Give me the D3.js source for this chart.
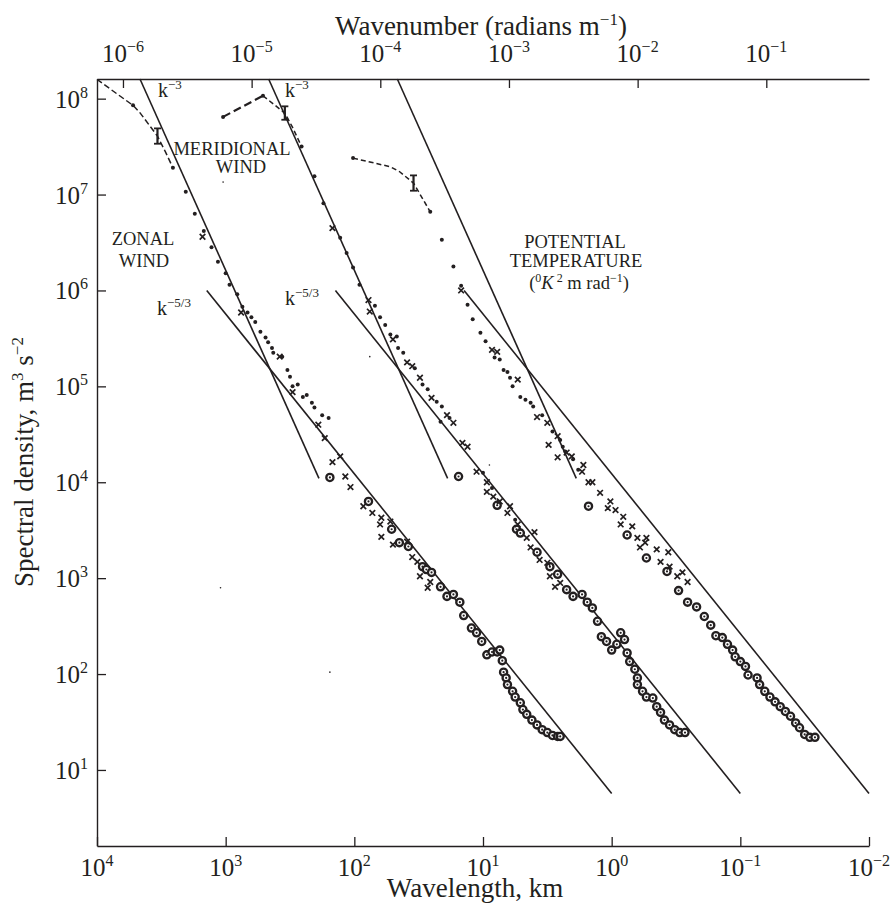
<!DOCTYPE html>
<html>
<head>
<meta charset="utf-8">
<script src="https://cdn.jsdelivr.net/npm/d3@7"></script>
<style>
  body { margin: 0; background: #fff; }
  svg text { font-family: "Liberation Serif", "Times New Roman", serif; fill: #231f20; }
</style>
</head>
<body>
<div id="chart"></div>
<script>
// Values as [log10(wavelength, km), log10(spectral density)]
// Meridional and temperature spectra are drawn shifted 1 and 2 decades to the right, as in the figure.

// Zonal wind
const zonalDashed = [[4.00, 8.20], [3.72, 7.93], [3.67, 7.86], [3.53, 7.61], [3.47, 7.45], [3.41, 7.28]];
const zonalDots = [[3.72, 7.93], [3.41, 7.28], [3.31, 7.03], [3.24, 6.80], [3.17, 6.62], [3.11, 6.45], [3.06, 6.30],
  [3.00, 6.18], [2.97, 6.06], [2.91, 5.96], [2.87, 5.83], [2.83, 5.77], [2.80, 5.72], [2.77, 5.67], [2.73, 5.57],
  [2.69, 5.51], [2.67, 5.46], [2.64, 5.40], [2.63, 5.35], [2.56, 5.31], [2.52, 5.17], [2.50, 5.10], [2.48, 5.00],
  [2.44, 5.02], [2.40, 4.89], [2.37, 4.91], [2.33, 4.83], [2.31, 4.78], [2.25, 4.70], [2.20, 4.67]];
const zonalCrosses = [[3.18, 6.56], [2.88, 5.77], [2.58, 5.31], [2.48, 4.94], [2.28, 4.60], [2.23, 4.46], [2.17, 4.21],
  [2.11, 4.27], [2.07, 4.06], [2.03, 3.95], [1.93, 3.75], [1.86, 3.68], [1.79, 3.63], [1.80, 3.56], [1.72, 3.59],
  [1.79, 3.43], [1.70, 3.35], [1.59, 3.38], [1.55, 3.22], [1.51, 3.17], [1.49, 3.02], [1.41, 2.96], [1.43, 2.90]];
const zonalCircles = [[2.19, 4.05], [1.89, 3.80], [1.71, 3.51], [1.65, 3.37], [1.58, 3.33], [1.47, 3.12], [1.44, 3.09],
  [1.40, 3.06], [1.33, 2.91], [1.28, 2.81], [1.23, 2.83], [1.18, 2.75], [1.15, 2.61], [1.09, 2.48], [1.05, 2.43],
  [1.01, 2.34], [0.97, 2.20], [0.93, 2.23], [0.89, 2.23], [0.87, 2.25], [0.85, 2.14], [0.84, 2.02], [0.82, 1.96],
  [0.81, 1.89], [0.77, 1.82], [0.75, 1.76], [0.71, 1.70], [0.69, 1.63], [0.66, 1.58], [0.62, 1.52], [0.58, 1.47],
  [0.54, 1.42], [0.50, 1.39], [0.46, 1.36], [0.42, 1.35], [0.40, 1.35]];

// Meridional wind
const meridionalDashed = [[3.02, 7.81], [2.71, 8.03], [2.54, 7.85], [2.48, 7.70], [2.41, 7.50]];
const meridionalDots = [[3.02, 7.81], [2.71, 8.03], [2.41, 7.50], [2.31, 7.19], [2.24, 6.91], [2.11, 6.55], [2.06, 6.39],
  [2.01, 6.24], [1.96, 6.06], [1.84, 5.84], [1.80, 5.72], [1.76, 5.64], [1.72, 5.54], [1.67, 5.52], [1.66, 5.40],
  [1.62, 5.35], [1.53, 5.19], [1.47, 5.02], [1.43, 4.97], [1.36, 4.84], [1.32, 4.79], [1.26, 4.67], [1.33, 4.63],
  [1.00, 4.10], [0.93, 3.94], [0.88, 3.80], [0.75, 3.61]];
const meridionalCrosses = [[2.17, 6.65], [1.89, 5.90], [1.88, 5.78], [1.70, 5.49], [1.59, 5.25], [1.55, 5.21],
  [1.49, 5.09], [1.40, 4.88], [1.28, 4.70], [1.23, 4.62], [1.16, 4.41], [1.12, 4.37], [1.05, 4.11], [0.97, 4.00],
  [0.97, 3.90], [0.92, 3.85], [0.87, 3.80], [0.79, 3.75], [0.81, 3.68], [0.73, 3.56], [0.66, 3.42], [0.60, 3.48],
  [0.63, 3.32], [0.56, 3.19], [0.50, 3.16], [0.48, 3.02], [0.44, 2.91], [0.40, 2.95]];
const meridionalCircles = [[1.19, 4.06], [0.89, 3.76], [0.74, 3.51], [0.71, 3.47], [0.58, 3.27], [0.48, 3.12],
  [0.42, 3.04], [0.35, 2.88], [0.30, 2.81], [0.23, 2.83], [0.19, 2.75], [0.15, 2.69], [0.11, 2.55], [0.08, 2.39],
  [0.04, 2.34], [0.00, 2.25], [-0.04, 2.31], [-0.07, 2.43], [-0.10, 2.36], [-0.12, 2.22], [-0.14, 2.13],
  [-0.18, 2.05], [-0.20, 1.96], [-0.20, 1.89], [-0.24, 1.82], [-0.27, 1.76], [-0.32, 1.75], [-0.35, 1.66],
  [-0.38, 1.60], [-0.41, 1.52], [-0.45, 1.47], [-0.49, 1.42], [-0.53, 1.39], [-0.57, 1.39]];

// Potential temperature
const temperatureDashed = [[2.01, 7.38], [1.72, 7.29], [1.65, 7.24], [1.54, 7.12], [1.41, 6.82]];
const temperatureDots = [[2.01, 7.38], [1.41, 6.82], [1.32, 6.53], [1.23, 6.25], [1.17, 6.05], [1.12, 5.85],
  [1.08, 5.70], [1.02, 5.56], [0.98, 5.47], [0.91, 5.30], [0.87, 5.28], [0.84, 5.17], [0.81, 5.15], [0.79, 5.09],
  [0.77, 5.00], [0.71, 4.89], [0.67, 4.86], [0.63, 4.83], [0.61, 4.79], [0.54, 4.70], [0.46, 4.53], [0.40, 4.44],
  [0.38, 4.37], [0.36, 4.32], [0.30, 4.24], [0.26, 4.13]];
const temperatureCrosses = [[1.17, 6.00], [0.93, 5.38], [0.89, 5.36], [0.73, 5.07], [0.58, 4.68], [0.50, 4.62],
  [0.42, 4.48], [0.49, 4.39], [0.35, 4.31], [0.42, 4.26], [0.31, 4.27], [0.22, 4.18], [0.23, 4.11], [0.18, 4.00],
  [0.15, 4.00], [0.09, 3.89], [0.01, 3.80], [0.03, 3.73], [-0.03, 3.71], [-0.09, 3.64], [-0.07, 3.56],
  [-0.16, 3.54], [-0.20, 3.42], [-0.27, 3.42], [-0.26, 3.37], [-0.22, 3.32], [-0.35, 3.30], [-0.44, 3.27],
  [-0.38, 3.17], [-0.45, 3.12], [-0.51, 3.02], [-0.55, 3.06], [-0.59, 2.96]];
const temperatureCircles = [[0.18, 3.75], [-0.12, 3.45], [-0.27, 3.21], [-0.43, 3.07], [-0.52, 2.87], [-0.59, 2.75],
  [-0.66, 2.70], [-0.72, 2.60], [-0.77, 2.51], [-0.81, 2.40], [-0.86, 2.38], [-0.90, 2.31], [-0.94, 2.25],
  [-0.96, 2.18], [-1.00, 2.13], [-1.04, 2.08], [-1.06, 1.99], [-1.13, 1.96], [-1.15, 1.89], [-1.19, 1.82],
  [-1.23, 1.76], [-1.27, 1.71], [-1.31, 1.66], [-1.35, 1.61], [-1.39, 1.56], [-1.43, 1.49], [-1.46, 1.44],
  [-1.50, 1.37], [-1.54, 1.34], [-1.58, 1.34]];

// error bars: [log wavelength, log density, half height in decades]
const errorBars = [[3.53, 7.61, 0.08], [2.54, 7.85, 0.07], [1.54, 7.12, 0.08]];
const specks = [[3.02, 7.13], [1.88, 5.31], [0.95, 4.18], [2.19, 2.02], [3.04, 2.90]];

// reference slopes, given for the zonal set, repeated one and two decades to the right
const k3Line = [[3.666, 8.205], [2.275, 4.04]];
const k53Line = [[3.147, 6.0], [0.0, 0.755]];
const groupShift = [0, 1, 2];

// ticks
const wavelengthTicks = [4, 3, 2, 1, 0, -1, -2];
const wavenumberTicks = [-6, -5, -4, -3, -2, -1];
const densityTicks = [1, 2, 3, 4, 5, 6, 7, 8];

const width = 893, height = 904;
const svg = d3.select("#chart").append("svg")
  .attr("width", width).attr("height", height);

const x = d3.scaleLog().domain([1e4, 1e-2]).range([97, 869]);
const y = d3.scaleLog().domain([10 ** 0.207, 10 ** 8.205]).range([846, 79]);
// wavenumber k = 2*pi / wavelength(m)
const kx = d3.scaleLog().domain([2 * Math.PI / 1e7, 2 * Math.PI / 10]).range([97, 869]);

const px = d => x(10 ** d[0]);
const py = d => y(10 ** d[1]);
const ink = "#231f20";

// axes (ticks inside)
const axisStyle = g => {
  g.select(".domain").attr("stroke", ink).attr("stroke-width", 1.4);
  g.selectAll(".tick line").attr("stroke", ink).attr("stroke-width", 1.3);
  g.selectAll(".tick text").remove();
};
svg.append("g").attr("transform", "translate(0,846)")
  .call(d3.axisBottom(x).tickValues(wavelengthTicks.map(e => 10 ** e)).tickSizeInner(-9).tickSizeOuter(0))
  .call(axisStyle);
svg.append("g").attr("transform", "translate(0,79)")
  .call(d3.axisTop(kx).tickValues(wavenumberTicks.map(e => 10 ** e)).tickSizeInner(-9).tickSizeOuter(0))
  .call(axisStyle);
svg.append("g").attr("transform", "translate(97,0)")
  .call(d3.axisLeft(y).tickValues(densityTicks.map(e => 10 ** e)).tickSizeInner(-9).tickSizeOuter(0))
  .call(axisStyle);

function power(sel, e) {
  sel.append("tspan").text("10");
  sel.append("tspan").attr("font-size", 16).attr("dy", -10)
    .text(e < 0 ? "\u2212" + (-e) : e);
}

svg.append("g").selectAll("text").data(wavelengthTicks).join("text")
  .attr("x", e => x(10 ** e)).attr("y", 876).attr("text-anchor", "middle").attr("font-size", 25)
  .each(function (e) { power(d3.select(this), e); });
svg.append("g").selectAll("text").data(wavenumberTicks).join("text")
  .attr("x", e => kx(10 ** e)).attr("y", 62).attr("text-anchor", "middle").attr("font-size", 25)
  .each(function (e) { power(d3.select(this), e); });
svg.append("g").selectAll("text").data(densityTicks).join("text")
  .attr("x", 88).attr("y", e => y(10 ** e) + 9).attr("text-anchor", "end").attr("font-size", 25)
  .each(function (e) { power(d3.select(this), e); });

// axis titles
const topTitle = svg.append("text").attr("x", 481).attr("y", 35)
  .attr("text-anchor", "middle").attr("font-size", 27);
topTitle.append("tspan").text("Wavenumber (radians m");
topTitle.append("tspan").attr("font-size", 17).attr("dy", -10).text("\u22121");
topTitle.append("tspan").attr("dy", 10).text(")");

svg.append("text").attr("x", 475).attr("y", 897)
  .attr("text-anchor", "middle").attr("font-size", 27).text("Wavelength, km");

const yTitle = svg.append("text").attr("transform", "translate(33,462) rotate(-90)")
  .attr("text-anchor", "middle").attr("font-size", 27);
yTitle.append("tspan").text("Spectral density, m");
yTitle.append("tspan").attr("font-size", 17).attr("dy", -10).text("3");
yTitle.append("tspan").attr("dy", 10).text(" s");
yTitle.append("tspan").attr("font-size", 17).attr("dy", -10).text("\u22122");

// reference lines
const plot = svg.append("g");
const refLines = [];
groupShift.forEach(s => {
  refLines.push(k3Line.map(p => [p[0] - s, p[1]]));
  refLines.push(k53Line.map(p => [p[0] - s, p[1]]));
});
plot.selectAll("line.ref").data(refLines).join("line").attr("class", "ref")
  .attr("x1", d => px(d[0])).attr("y1", d => py(d[0]))
  .attr("x2", d => px(d[1])).attr("y2", d => py(d[1]))
  .attr("stroke", ink).attr("stroke-width", 1.6);

// dashed large-scale curves
const dashed = [
  { pts: zonalDashed, dash: "6,3", w: 1.5 },
  { pts: meridionalDashed.slice(0, 2), dash: "8,4", w: 2.2 },
  { pts: meridionalDashed.slice(1), dash: "5,3", w: 1.5 },
  { pts: temperatureDashed, dash: "5,3", w: 1.5 }
];
plot.selectAll("path.dash").data(dashed).join("path").attr("class", "dash")
  .attr("d", d => d3.line().x(px).y(py)(d.pts))
  .attr("fill", "none").attr("stroke", ink)
  .attr("stroke-width", d => d.w).attr("stroke-dasharray", d => d.dash);

// error bars
const eb = plot.selectAll("g.err").data(errorBars).join("g").attr("class", "err");
eb.append("line")
  .attr("x1", px).attr("x2", px)
  .attr("y1", d => y(10 ** (d[1] + d[2]))).attr("y2", d => y(10 ** (d[1] - d[2])))
  .attr("stroke", ink).attr("stroke-width", 2.2);
[1, -1].forEach(sg => {
  eb.append("line")
    .attr("x1", d => px(d) - 3.5).attr("x2", d => px(d) + 3.5)
    .attr("y1", d => y(10 ** (d[1] + sg * d[2]))).attr("y2", d => y(10 ** (d[1] + sg * d[2])))
    .attr("stroke", ink).attr("stroke-width", 1.8);
});

// markers
const allCircles = zonalCircles.concat(meridionalCircles, temperatureCircles);
const allCrosses = zonalCrosses.concat(meridionalCrosses, temperatureCrosses);
const allDots = zonalDots.concat(meridionalDots, temperatureDots);

plot.selectAll("circle.ring").data(allCircles).join("circle").attr("class", "ring")
  .attr("cx", px).attr("cy", py).attr("r", 3.6)
  .attr("fill", "#fff").attr("stroke", ink).attr("stroke-width", 2.3);
plot.selectAll("circle.center").data(allCircles).join("circle").attr("class", "center")
  .attr("cx", px).attr("cy", py).attr("r", 1.1).attr("fill", ink);

plot.selectAll("path.cross").data(allCrosses).join("path").attr("class", "cross")
  .attr("d", d => {
    const cx = px(d), cy = py(d), s = 2.8;
    return `M${cx - s},${cy - s}L${cx + s},${cy + s}M${cx - s},${cy + s}L${cx + s},${cy - s}`;
  })
  .attr("stroke", ink).attr("stroke-width", 1.7);

plot.selectAll("circle.dot").data(allDots).join("circle").attr("class", "dot")
  .attr("cx", px).attr("cy", py).attr("r", 2).attr("fill", ink);

plot.selectAll("circle.speck").data(specks).join("circle").attr("class", "speck")
  .attr("cx", px).attr("cy", py).attr("r", 0.8).attr("fill", ink);

// annotations
function kLabel(xp, yp, exp) {
  const t = svg.append("text").attr("x", xp).attr("y", yp).attr("font-size", 20);
  t.append("tspan").text("k");
  t.append("tspan").attr("font-size", 13).attr("dy", -8).text(exp);
}
kLabel(158, 97, "\u22123");
kLabel(285, 97, "\u22123");
kLabel(157, 315, "\u22125/3");
kLabel(285, 305, "\u22125/3");

const notes = [
  { t: "MERIDIONAL", x: 232, y: 155 },
  { t: "WIND", x: 241, y: 173 },
  { t: "ZONAL", x: 143, y: 245 },
  { t: "WIND", x: 144, y: 267 },
  { t: "POTENTIAL", x: 575, y: 248 },
  { t: "TEMPERATURE", x: 576, y: 267 }
];
svg.append("g").selectAll("text").data(notes).join("text")
  .attr("x", d => d.x).attr("y", d => d.y).attr("text-anchor", "middle")
  .attr("font-size", 18.5).text(d => d.t);

const unit = svg.append("text").attr("x", 579).attr("y", 289)
  .attr("text-anchor", "middle").attr("font-size", 18.5);
unit.append("tspan").text("(");
unit.append("tspan").attr("font-size", 12).attr("dy", -7).text("0");
unit.append("tspan").attr("dy", 7).attr("font-style", "italic").text("K");
unit.append("tspan").attr("font-size", 12).attr("dy", -7).text(" 2");
unit.append("tspan").attr("dy", 7).text(" m rad");
unit.append("tspan").attr("font-size", 12).attr("dy", -7).text("\u22121");
unit.append("tspan").attr("dy", 7).text(")");
</script>
</body>
</html>
